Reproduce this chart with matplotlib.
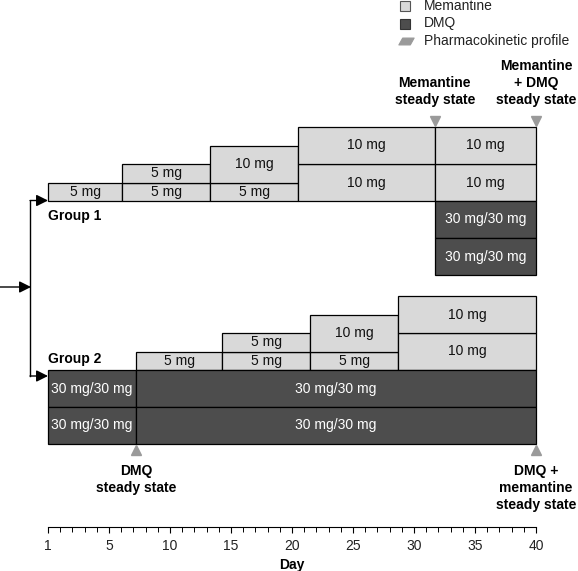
"""Study design: memantine / DMQ dosing schedule for two groups"""

import matplotlib.pyplot as plt
from matplotlib.path import Path
from matplotlib.ticker import MultipleLocator

plt.rcParams['font.family'] = ['Liberation Sans', 'DejaVu Sans']

# --- data -------------------------------------------------------------
day_ticks = [0, 5, 10, 15, 20, 25, 30, 35, 40]
day_labels = ['1', '5', '10', '15', '20', '25', '30', '35', '40']

# Group 1: memantine titration steps (doses stacked bottom -> top)
g1_starts = [0, 6.1, 13.3, 20.5, 31.7]
g1_ends = [6.1, 13.3, 20.5, 31.7, 40]
g1_mem = [[5], [5, 5], [5, 10], [10, 10], [10, 10]]
g1_dmq_starts = [31.7]
g1_dmq_ends = [40]
g1_dmq_labels = ['30 mg/30 mg', '30 mg/30 mg']
g1_pk_days = [31.7, 40]

# Group 2: DMQ first, memantine added later
g2_starts = [7.2, 14.3, 21.5, 28.7]
g2_ends = [14.3, 21.5, 28.7, 40]
g2_mem = [[5], [5, 5], [5, 10], [10, 10]]
g2_dmq_starts = [0, 7.2]
g2_dmq_ends = [7.2, 40]
g2_dmq_labels = ['30 mg/30 mg', '30 mg/30 mg']
g2_pk_days = [7.2, 40]

# --- layout -----------------------------------------------------------
W, H = 578, 571
X0_PX = 48          # pixel of day axis origin
PX_PER_DAY = 12.2
PX_PER_MG = 3.7
DMQ_H = 10          # height of a DMQ row (in mg units)

LIGHT = '#d9d9d9'
DARK = '#4d4d4d'
MARK = '#9a9a9a'
FS = 10


def px_x(px):
    return (px - X0_PX) / PX_PER_DAY


def px_y(px):
    return (H - px) / PX_PER_MG


G1_BASE = px_y(201)
G2_BASE = px_y(370)


def draw_memantine(ax, starts, ends, stacks, base):
    for s, e, doses in zip(starts, ends, stacks):
        bottom = base
        for d in doses:
            ax.bar(s, d, width=e - s, bottom=bottom, align='edge',
                   color=LIGHT, edgecolor='black', linewidth=0.9)
            ax.text((s + e) / 2, bottom + d / 2, f'{d} mg', ha='center',
                    va='center', fontsize=FS, color='#111111')
            bottom += d


def draw_dmq(ax, starts, ends, labels, base):
    for s, e in zip(starts, ends):
        for i, lab in enumerate(labels):
            bottom = base - (i + 1) * DMQ_H
            ax.bar(s, DMQ_H, width=e - s, bottom=bottom, align='edge',
                   color=DARK, edgecolor='black', linewidth=0.9)
            ax.text((s + e) / 2, bottom + DMQ_H / 2, lab, ha='center',
                    va='center', fontsize=FS, color='white')


fig = plt.figure(figsize=(W / 100, H / 100), dpi=100)
ax = fig.add_axes([0, 0, 1, 1])
ax.set_xlim(px_x(0), px_x(W))
ax.set_ylim(0, H / PX_PER_MG)
ax.axis('off')

# Group 1
draw_memantine(ax, g1_starts, g1_ends, g1_mem, G1_BASE)
draw_dmq(ax, g1_dmq_starts, g1_dmq_ends, g1_dmq_labels, G1_BASE)
g1_top = G1_BASE + sum(g1_mem[-1])
ax.plot(g1_pk_days, [g1_top + 1.5] * len(g1_pk_days), linestyle='none',
        marker='v', markersize=6.5, color=MARK)

# Group 2
draw_memantine(ax, g2_starts, g2_ends, g2_mem, G2_BASE)
draw_dmq(ax, g2_dmq_starts, g2_dmq_ends, g2_dmq_labels, G2_BASE)
g2_bottom = G2_BASE - len(g2_dmq_labels) * DMQ_H
ax.plot(g2_pk_days, [g2_bottom - 1.6] * len(g2_pk_days), linestyle='none',
        marker='^', markersize=6.5, color=MARK)

# Group labels
ax.text(0, px_y(216), 'Group 1', fontsize=FS, fontweight='bold', va='center')
ax.text(0, px_y(359), 'Group 2', fontsize=FS, fontweight='bold', va='center')

# Randomisation arrows
arrow = dict(arrowstyle='-|>,head_length=0.7,head_width=0.35', color='black',
             lw=1, shrinkA=0, shrinkB=0, mutation_scale=10)
xv = px_x(30)
ax.plot([xv, xv], [px_y(201), px_y(376)], color='black', lw=1)
ax.annotate('', xy=(px_x(31), px_y(287)), xytext=(px_x(0), px_y(287)),
            arrowprops=arrow)
ax.annotate('', xy=(0, px_y(200.5)), xytext=(xv, px_y(200.5)),
            arrowprops=arrow)
ax.annotate('', xy=(0, px_y(376)), xytext=(xv, px_y(376)),
            arrowprops=arrow)

# Steady-state annotations
ax.text(g1_pk_days[0], px_y(107), 'Memantine\nsteady state', ha='center',
        va='bottom', fontsize=FS, fontweight='bold', linespacing=1.25)
ax.text(g1_pk_days[1], px_y(107), 'Memantine\n+ DMQ\nsteady state',
        ha='center', va='bottom', fontsize=FS, fontweight='bold',
        linespacing=1.25)
ax.text(g2_pk_days[0], px_y(464), 'DMQ\nsteady state', ha='center', va='top',
        fontsize=FS, fontweight='bold', linespacing=1.25)
ax.text(g2_pk_days[1], px_y(464), 'DMQ +\nmemantine\nsteady state',
        ha='center', va='top', fontsize=FS, fontweight='bold',
        linespacing=1.25)

# Legend (drawn by hand)
para = Path([(-1.0, -0.45), (0.5, -0.45), (1.0, 0.45), (-0.5, 0.45),
             (-1.0, -0.45)],
            [Path.MOVETO, Path.LINETO, Path.LINETO, Path.LINETO, Path.CLOSEPOLY])
leg_items = [('Memantine', 's', LIGHT, '#555555', 6.5, 405),
             ('DMQ', 's', DARK, '#333333', 6.5, 405),
             ('Pharmacokinetic profile', para, MARK, MARK, 11, 406)]
for k, (lab, mk, fc, ec, ms, mx) in enumerate(leg_items):
    yy = px_y(6 + 17.5 * k)
    ax.plot([px_x(mx)], [yy], marker=mk, markersize=ms, markerfacecolor=fc,
            markeredgecolor=ec, markeredgewidth=0.8, linestyle='none')
    ax.text(px_x(424), yy, lab, fontsize=FS, va='center', color='#222222')

# Day axis
ax_day = fig.add_axes([X0_PX / W, 44 / H, 40 * PX_PER_DAY / W, 0.0001])
ax_day.set_xlim(0, 40)
ax_day.set_facecolor('none')
for side in ['left', 'right', 'top']:
    ax_day.spines[side].set_visible(False)
ax_day.spines['bottom'].set_linewidth(0.8)
ax_day.set_yticks([])
ax_day.set_xticks(day_ticks)
ax_day.set_xticklabels(day_labels)
ax_day.xaxis.set_minor_locator(MultipleLocator(1))
ax_day.tick_params(axis='x', which='major', length=4, width=0.8,
                   labelsize=FS, pad=5, labelcolor='#222222')
ax_day.tick_params(axis='x', which='minor', length=3.5, width=0.7)
ax_day.set_xlabel('Day', fontsize=FS, fontweight='bold', labelpad=3)

fig.savefig('out.png', dpi=100)
